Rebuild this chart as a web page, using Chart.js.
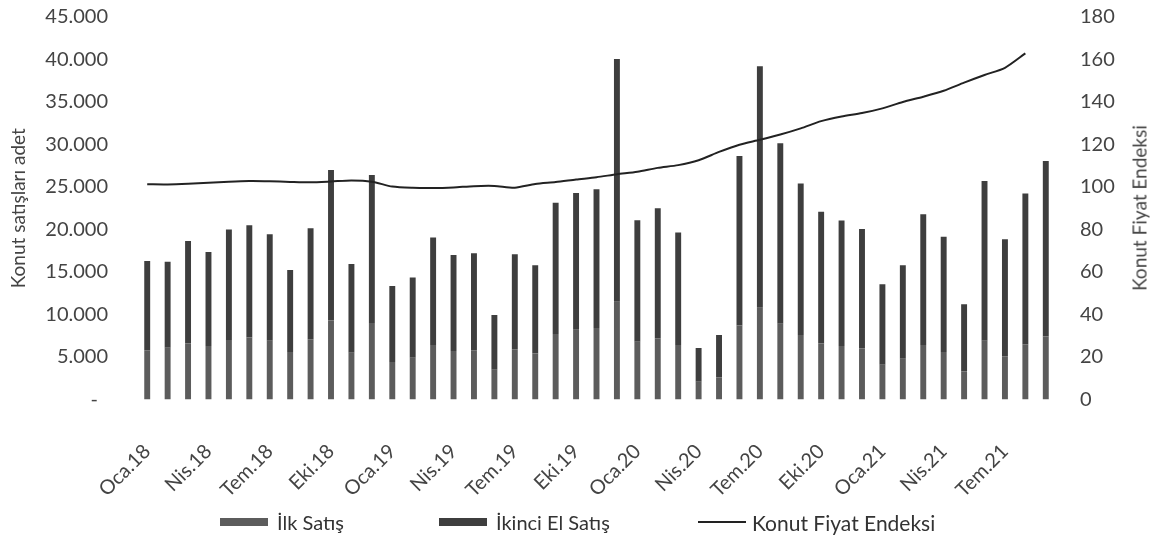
<!DOCTYPE html>
<html><head><meta charset="utf-8">
<script src="https://cdn.jsdelivr.net/npm/chart.js@4"></script>
<style>
html,body{margin:0;padding:0;background:#fff;}
#wrap{position:relative;width:1152px;height:540px;}
#legend{position:absolute;left:0;top:508px;width:1152px;height:28px;font:20px Lato;color:#333;}
.item{position:absolute;top:0;display:flex;align-items:center;height:28px;white-space:nowrap;}
.sw{width:48px;height:8px;margin-right:9px;}
.ln{width:48px;height:2px;background:#222;margin-right:6px;}
#rtitle{position:absolute;left:1139px;top:208px;transform:translate(-50%,-50%) rotate(-90deg);white-space:nowrap;font:19px Lato;color:#444;}
</style></head>
<body>
<div id="wrap">
<canvas id="c" width="1152" height="540"></canvas>
<div id="rtitle">Konut Fiyat Endeksi</div>
<div id="legend">
  <div class="item" style="left:220px"><span class="sw" style="background:#5c5c5c"></span>İlk Satış</div>
  <div class="item" style="left:439px"><span class="sw" style="background:#3e3e3e"></span>İkinci El Satış</div>
  <div class="item" style="left:698px;font-size:21px"><span class="ln"></span>Konut Fiyat Endeksi</div>
</div>
</div>
<script>
const categories = [
 'Oca.18','Şub.18','Mar.18','Nis.18','May.18','Haz.18','Tem.18','Ağu.18','Eyl.18','Eki.18','Kas.18','Ara.18',
 'Oca.19','Şub.19','Mar.19','Nis.19','May.19','Haz.19','Tem.19','Ağu.19','Eyl.19','Eki.19','Kas.19','Ara.19',
 'Oca.20','Şub.20','Mar.20','Nis.20','May.20','Haz.20','Tem.20','Ağu.20','Eyl.20','Eki.20','Kas.20','Ara.20',
 'Oca.21','Şub.21','Mar.21','Nis.21','May.21','Haz.21','Tem.21','Ağu.21','Eyl.21'
];
const ilkSatis = [
 5800,6100,6600,6300,7000,7300,6900,5600,7100,9300,5500,9000,
 4400,4900,6400,5700,5800,3500,5900,5400,7700,8200,8400,11500,
 6800,7200,6400,2100,2600,8700,10800,8900,7600,6600,6300,6000,
 4100,4800,6400,5600,3300,6900,5100,6500,7400
];
const ikinciElSatis = [
 10500,10100,12050,11050,13000,13200,12550,9650,13050,17700,10450,17400,
 8950,9450,12650,11300,11400,6450,11200,10400,15450,16100,16350,28550,
 14300,15300,13250,3950,5000,19950,28400,21250,17800,15500,14750,14050,
 9450,11000,15400,13550,7900,18800,13750,17750,20650
];
const fiyatEndeksi = [
 101.3,101.2,101.5,102.0,102.5,102.8,102.7,102.4,102.2,102.6,103.1,102.5,
 100.2,99.6,99.5,99.8,100.4,100.5,99.7,101.4,102.3,103.5,104.6,106.0,
 107.2,109.0,110.3,112.6,116.5,119.9,122.2,124.7,127.6,131.0,133.2,134.8,
 137.0,140.0,142.5,145.3,149.1,152.7,156.1,162.9,null
];
const leftTicks = {min:0, max:45000, step:5000};
const rightTicks = {min:0, max:180, step:20};

function fmt(v){ return v.toString().replace(/\B(?=(\d{3})+(?!\d))/g,'.'); }
const FONT = 'Lato';
const TXT = '#444';

new Chart(document.getElementById('c'), {
  data: {
    labels: categories,
    datasets: [
      {type:'bar', label:'İlk Satış', data: ilkSatis, backgroundColor:'#5c5c5c', yAxisID:'y', order:1,
       categoryPercentage:1, barPercentage:0.29},
      {type:'bar', label:'İkinci El Satış', data: ikinciElSatis, backgroundColor:'#3e3e3e', yAxisID:'y', order:1,
       categoryPercentage:1, barPercentage:0.29},
      {type:'line', label:'Konut Fiyat Endeksi', data: fiyatEndeksi, borderColor:'#222', borderWidth:2,
       pointRadius:0, tension:0.25, yAxisID:'y2', order:0, fill:false}
    ]
  },
  options: {
    responsive:false, animation:false,
    layout:{padding:{top:17, bottom:40, left:0, right:0}},
    plugins:{legend:{display:false}, tooltip:{enabled:false}},
    scales:{
      x:{
        stacked:true,
        grid:{display:false, drawTicks:false}, border:{display:false},
        ticks:{autoSkip:false, maxRotation:45, minRotation:45, padding:40,
          font:{family:FONT, size:20}, color:TXT,
          callback:(v,i)=> i%3===0 ? categories[i] : ''},
        afterFit:(s)=>{ s.height = 100.5; s.paddingLeft = 0; s.paddingRight = 0; }
      },
      y:{
        stacked:true, position:'left', min:leftTicks.min, max:leftTicks.max,
        grid:{display:false, drawTicks:false}, border:{display:false},
        ticks:{stepSize:leftTicks.step, padding:29, font:{family:FONT, size:20}, color:TXT,
          callback:(v)=> v===0 ? '-\u2002' : fmt(v)},
        title:{display:true, text:'Konut satışları adet', font:{family:FONT, size:19}, color:TXT, padding:{top:7,bottom:0}},
        afterFit:(s)=>{ s.width = 137; s.paddingTop = 12; s.paddingBottom = 12; }
      },
      y2:{
        position:'right', min:rightTicks.min, max:rightTicks.max,
        grid:{display:false, drawTicks:false}, border:{display:false},
        ticks:{stepSize:rightTicks.step, padding:24, font:{family:FONT, size:20}, color:TXT},
        afterFit:(s)=>{ s.width = 96; s.paddingTop = 12; s.paddingBottom = 12; }
      }
    }
  }
});
</script>
</body></html>
